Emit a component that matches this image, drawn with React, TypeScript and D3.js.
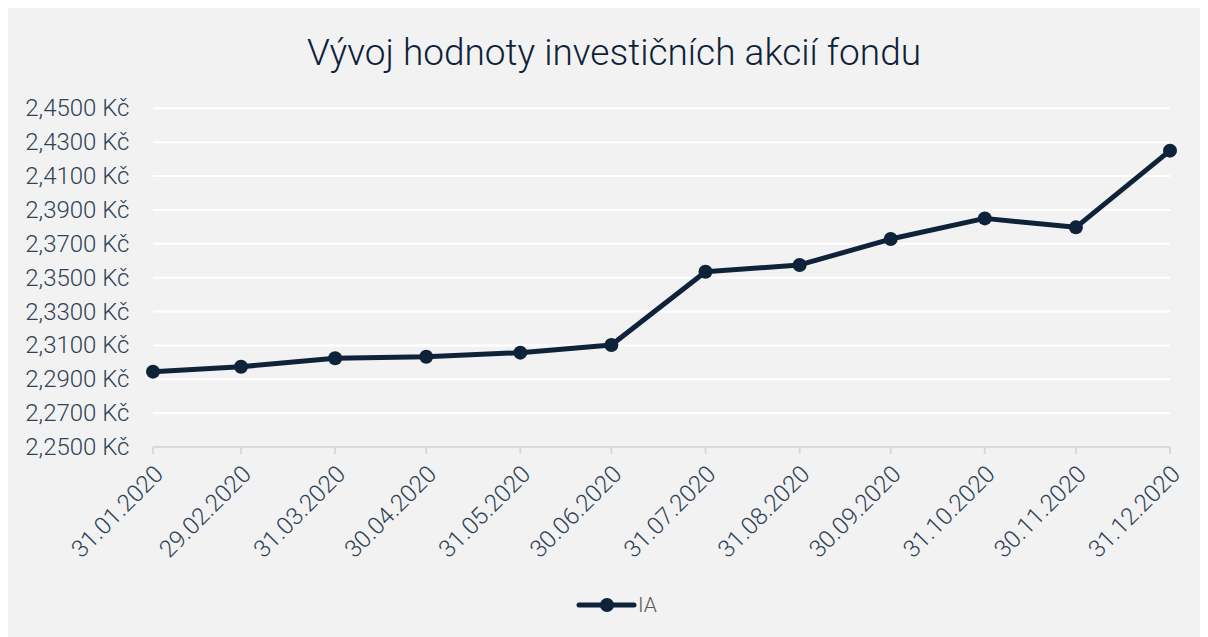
import React from "react";
import * as d3 from "d3";

const dateStrings = [
  "2020-01-31", "2020-02-29", "2020-03-31", "2020-04-30", "2020-05-31", "2020-06-30",
  "2020-07-31", "2020-08-31", "2020-09-30", "2020-10-31", "2020-11-30", "2020-12-31",
];
const dateLabels = [
  "31.01.2020", "29.02.2020", "31.03.2020", "30.04.2020", "31.05.2020", "30.06.2020",
  "31.07.2020", "31.08.2020", "30.09.2020", "31.10.2020", "30.11.2020", "31.12.2020",
];
const iaValues = [
  2.2945, 2.2974, 2.3024, 2.3033, 2.3057, 2.3102,
  2.3535, 2.3575, 2.3728, 2.3850, 2.3797, 2.4250,
];
const yTicks = [2.25, 2.27, 2.29, 2.31, 2.33, 2.35, 2.37, 2.39, 2.41, 2.43, 2.45];
const title = "Vývoj hodnoty investičních akcií fondu";
const seriesName = "IA";

const W = 1210;
const H = 640;
const FONT = "Roboto, 'Noto Sans', sans-serif";
const LINE = "#0e2339";
const TEXT = "#2f4256";

export default function App() {
  const parse = d3.timeParse("%Y-%m-%d");
  const dates = dateStrings.map((s) => parse(s) as Date);
  const x = d3.scaleTime().domain([dates[0], dates[dates.length - 1]]).range([145, 1162]);
  const y = d3.scaleLinear().domain([2.25, 2.45]).range([439, 100.3]);
  const fmt = (v: number) => d3.format(".4f")(v).replace(".", ",") + " Kč";
  const pts = dates.map((d, i) => [x(d), y(iaValues[i])] as [number, number]);
  const line = d3.line()(pts) || "";
  const axisY = y(2.25);

  return (
    <>
      <style>{`html{overflow:hidden}`}</style>
      <svg width={W} height={H} style={{ display: "block" }} fontFamily={FONT}>
        <rect x={0} y={0} width={W} height={H} fill="#f2f2f2" />
        <text x={606} y={57} textAnchor="middle" fontSize={37} fontWeight={300} fill={LINE}>
          {title}
        </text>
        {yTicks.slice(1).map((t) => (
          <line key={t} x1={145} x2={1162} y1={y(t)} y2={y(t)} stroke="#ffffff" strokeWidth={2} />
        ))}
        <line x1={145} x2={1162} y1={axisY} y2={axisY} stroke="#d9d9d9" strokeWidth={2} />
        {dates.map((d, i) => (
          <line key={i} x1={x(d)} x2={x(d)} y1={axisY} y2={axisY + 7} stroke="#d9d9d9" strokeWidth={2} />
        ))}
        {yTicks.map((t) => (
          <text key={t} x={121.5} y={y(t)} textAnchor="end" dominantBaseline="central" fontSize={24} fontWeight={300} fill={TEXT}>
            {fmt(t)}
          </text>
        ))}
        {dates.map((d, i) => (
          <text
            key={i}
            transform={`translate(${x(d) + 6},${axisY + 23}) rotate(-45)`}
            textAnchor="end"
            dominantBaseline="central"
            fontSize={24}
            fontWeight={300}
            fill={TEXT}
          >
            {dateLabels[i]}
          </text>
        ))}
        <path d={line} fill="none" stroke={LINE} strokeWidth={5} strokeLinejoin="round" />
        {pts.map((p, i) => (
          <circle key={i} cx={p[0]} cy={p[1]} r={7} fill={LINE} />
        ))}
        <line x1={571} x2={626} y1={597} y2={597} stroke={LINE} strokeWidth={5} strokeLinecap="round" />
        <circle cx={599} cy={597} r={7} fill={LINE} />
        <text x={630} y={597} dominantBaseline="central" fontSize={21} fontWeight={300} fill="#595959">
          {seriesName}
        </text>
      </svg>
    </>
  );
}
